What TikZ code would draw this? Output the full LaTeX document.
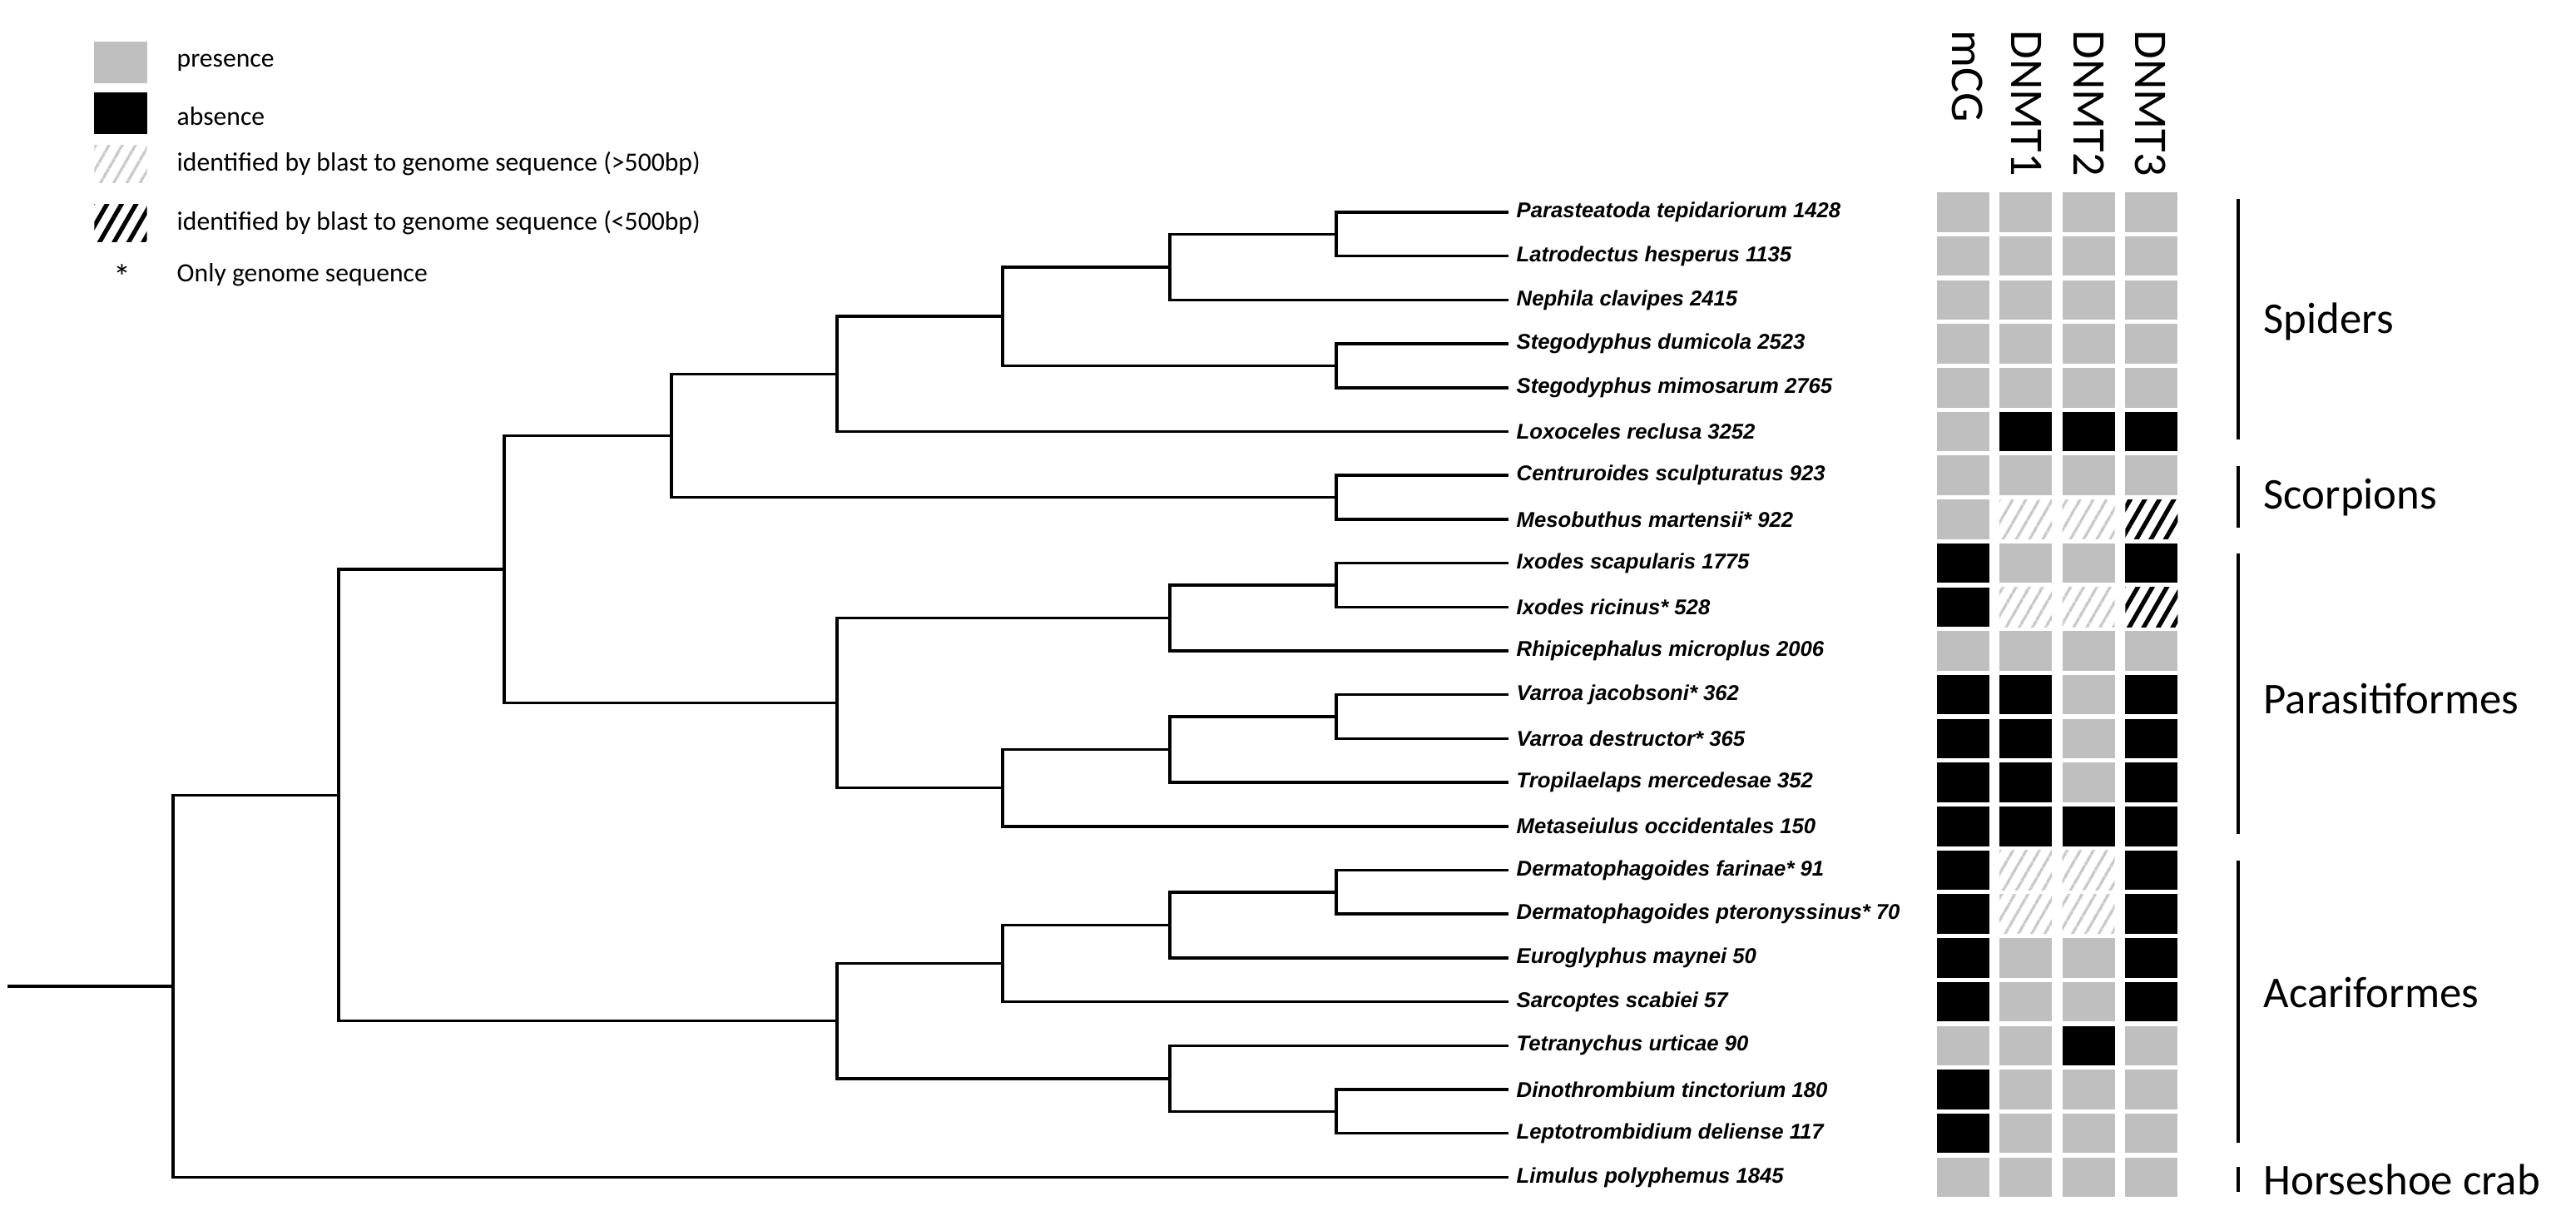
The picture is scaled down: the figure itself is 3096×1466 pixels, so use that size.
\documentclass[tikz,border=0pt]{standalone}
\usepackage{fontspec}
\setmainfont{Carlito}
\newfontfamily\taxfont{Liberation Sans}
\usetikzlibrary{patterns.meta}
\tikzset{
  branch/.style={line width=1pt},
  groupbar/.style={line width=1.1pt},
  taxon/.style={anchor=west,inner sep=0pt,font=\taxfont\bfseries\itshape\fontsize{7.3}{8}\selectfont},
  cell/.style={minimum width=0.63cm,minimum height=0.475cm,inner sep=0pt},
  cellp/.style={cell,fill=black!25},
  cella/.style={cell,fill=black},
  cellh/.style={cell,pattern={Lines[angle=60,distance=4pt,line width=1pt]},pattern color=black!22},
  cellk/.style={cell,pattern={Lines[angle=60,distance=4.3pt,line width=1.5pt]},pattern color=black},
  header/.style={rotate=-90,anchor=west,inner sep=0pt,font=\fontsize{16}{18}\selectfont},
  grouplabel/.style={anchor=west,inner sep=0pt,font=\fontsize{15}{17}\selectfont},
  legendtext/.style={anchor=west,inner sep=0pt,font=\fontsize{9}{10}\selectfont}
}
\begin{document}
\begin{tikzpicture}[x=0.01cm,y=-0.01cm]
\useasboundingbox (0,0) rectangle (3096,1466);
%Legende
  \node[cellp,minimum height=0.49cm] (lp) at (145,75) {};
  \node[legendtext] (lpt) at (212,75) {presence};
  \node[cella,minimum height=0.49cm] (la) at (145,136) {};
  \node[legendtext] (lat) at (212,140) {absence};
  \node[cellh,minimum height=0.44cm] (lh) at (145,197) {};
  \node[legendtext] (lht) at (212,197) {identified by blast to genome sequence (>500bp)};
  \node[cellk,minimum height=0.45cm] (lk) at (145,268) {};
  \node[legendtext] (lkt) at (212,268) {identified by blast to genome sequence (<500bp)};
  \node[inner sep=0pt,font=\fontsize{12}{12}\selectfont] (ls) at (147,333) {*};
  \node[legendtext] (lst) at (212,330) {Only genome sequence};
%Taxa
  \foreach \r/\name in {
      1/Parasteatoda tepidariorum 1428,
      2/Latrodectus hesperus 1135,
      3/Nephila clavipes 2415,
      4/Stegodyphus dumicola 2523,
      5/Stegodyphus mimosarum 2765,
      6/Loxoceles reclusa 3252,
      7/Centruroides sculpturatus 923,
      8/Mesobuthus martensii* 922,
      9/Ixodes scapularis 1775,
      10/Ixodes ricinus* 528,
      11/Rhipicephalus microplus 2006,
      12/Varroa jacobsoni* 362,
      13/Varroa destructor* 365,
      14/Tropilaelaps mercedesae 352,
      15/Metaseiulus occidentales 150,
      16/Dermatophagoides farinae* 91,
      17/Dermatophagoides pteronyssinus* 70,
      18/Euroglyphus maynei 50,
      19/Sarcoptes scabiei 57,
      20/Tetranychus urticae 90,
      21/Dinothrombium tinctorium 180,
      22/Leptotrombidium deliense 117,
      23/Limulus polyphemus 1845} {
    \coordinate (t\r) at (1813,{255+52.7*(\r-1)});
    \node[taxon] (n\r) at (1822,{255+52.7*(\r-1)}) {\name};
  }
%Baum
  \coordinate (PL) at (1606,281.4);
  \coordinate (F) at (1406,320.9);
  \coordinate (St) at (1606,439.5);
  \coordinate (E) at (1205,380.2);
  \coordinate (Sp) at (1006,449.4);
  \coordinate (Sc) at (1606,597.6);
  \coordinate (C) at (807,523.5);
  \coordinate (Ix) at (1606,703);
  \coordinate (IG) at (1406,742.5);
  \coordinate (Va) at (1606,861);
  \coordinate (V) at (1406,900.6);
  \coordinate (Me) at (1205,946.7);
  \coordinate (Pa) at (1006,844.6);
  \coordinate (B) at (606,684);
  \coordinate (De) at (1606,1071.9);
  \coordinate (AB) at (1406,1111.4);
  \coordinate (AA) at (1205,1157.5);
  \coordinate (Di) at (1606,1335.4);
  \coordinate (Tr) at (1406,1295.8);
  \coordinate (Ac) at (1006,1226.7);
  \coordinate (A) at (407,955.3);
  \coordinate (R) at (208,1184.9);
  \coordinate (R0) at (9,1184.9);
  \draw[branch] (R0) -- (R);
  \foreach \p/\c in {R/A,R/t23,A/B,A/Ac,B/C,B/Pa,C/Sp,C/Sc,Sp/E,Sp/t6,E/F,E/St,
      F/PL,F/t3,PL/t1,PL/t2,St/t4,St/t5,Sc/t7,Sc/t8,Pa/IG,Pa/Me,IG/Ix,IG/t11,
      Ix/t9,Ix/t10,Me/V,Me/t15,V/Va,V/t14,Va/t12,Va/t13,Ac/AA,Ac/Tr,AA/AB,AA/t19,
      AB/De,AB/t18,De/t16,De/t17,Tr/t20,Tr/Di,Di/t21,Di/t22}
    \draw[branch] (\p) |- (\c);
%Matrix
  \node[header] (hm) at (2365,36) {mCG};
  \node[header] (h1) at (2436,36) {DNMT1};
  \node[header] (h2) at (2511,36) {DNMT2};
  \node[header] (h3) at (2585,36) {DNMT3};
  \foreach \r/\a/\b/\c/\d in {1/p/p/p/p,2/p/p/p/p,3/p/p/p/p,4/p/p/p/p,5/p/p/p/p,
      6/p/a/a/a,7/p/p/p/p,8/p/h/h/k,9/a/p/p/a,10/a/h/h/k,11/p/p/p/p,12/a/a/p/a,
      13/a/a/p/a,14/a/a/p/a,15/a/a/a/a,16/a/h/h/a,17/a/h/h/a,18/a/p/p/a,
      19/a/p/p/a,20/p/p/a/p,21/a/p/p/p,22/a/p/p/p,23/p/p/p/p}
    \foreach \col/\k in {0/\a,1/\b,2/\c,3/\d}
      \node[cell\k] (m\r-\col) at ({2359+75.6*\col},{255+52.7*(\r-1)}) {};
%Gruppen
  \coordinate (g1a) at (2690,239); \coordinate (g1b) at (2690,528);
  \coordinate (g2a) at (2690,560); \coordinate (g2b) at (2690,634);
  \coordinate (g3a) at (2690,665); \coordinate (g3b) at (2690,1002);
  \coordinate (g4a) at (2690,1034); \coordinate (g4b) at (2690,1373);
  \coordinate (g5a) at (2690,1402); \coordinate (g5b) at (2690,1432);
  \draw[groupbar] (g1a) -- (g1b);
  \draw[groupbar] (g2a) -- (g2b);
  \draw[groupbar] (g3a) -- (g3b);
  \draw[groupbar] (g4a) -- (g4b);
  \draw[groupbar] (g5a) -- (g5b);
  \node[grouplabel] (spiders) at (2720,386) {Spiders};
  \node[grouplabel] (scorpions) at (2720,598) {Scorpions};
  \node[grouplabel] (parasiti) at (2720,839) {Parasitiformes};
  \node[grouplabel] (acari) at (2720,1193) {Acariformes};
  \node[grouplabel] (limulus) at (2720,1417) {Horseshoe crab};
\end{tikzpicture}
\end{document}
